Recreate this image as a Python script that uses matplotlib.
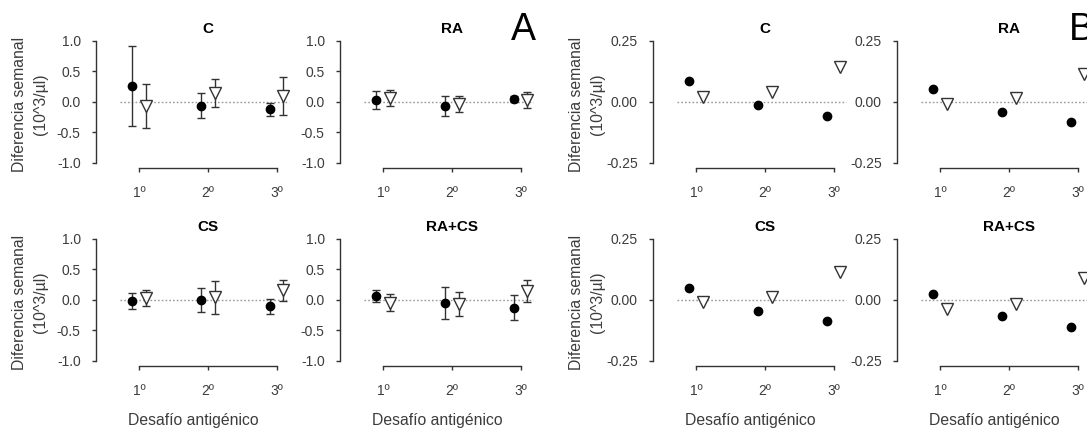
import matplotlib
matplotlib.use("Agg")
import matplotlib.pyplot as plt

plt.rcParams['font.family'] = ['Liberation Sans', 'DejaVu Sans']

desafios = ["1º", "2º", "3º"]
grupos = ["C", "RA", "CS", "RA+CS"]
x_pos = [1, 2, 3]

# A: media y error estándar (círculos llenos / triángulos vacíos)
a_media_circ = {"C": [0.26, -0.06, -0.12], "RA": [0.03, -0.07, 0.05],
                "CS": [-0.03, -0.01, -0.11], "RA+CS": [0.06, -0.06, -0.13]}
a_ee_circ = {"C": [0.65, 0.21, 0.11], "RA": [0.15, 0.16, 0.05],
             "CS": [0.13, 0.20, 0.12], "RA+CS": [0.10, 0.26, 0.20]}
a_media_tri = {"C": [-0.06, 0.15, 0.09], "RA": [0.07, -0.04, 0.03],
               "CS": [0.02, 0.04, 0.15], "RA+CS": [-0.05, -0.07, 0.14]}
a_ee_tri = {"C": [0.36, 0.23, 0.31], "RA": [0.13, 0.13, 0.13],
            "CS": [0.13, 0.27, 0.17], "RA+CS": [0.14, 0.20, 0.18]}

# B: valores sin barras de error
b_circ = {"C": [0.084, -0.014, -0.059], "RA": [0.054, -0.041, -0.082],
          "CS": [0.049, -0.045, -0.086], "RA+CS": [0.024, -0.069, -0.114]}
b_tri = {"C": [0.019, 0.040, 0.144], "RA": [-0.007, 0.014, 0.114],
         "CS": [-0.011, 0.012, 0.114], "RA+CS": [-0.038, -0.018, 0.090]}

W, H = 1087, 428
fig = plt.figure(figsize=(W / 100, H / 100), dpi=100)

gris = '#333333'
txt = '#3c3c3c'
col_left = {"A": [96, 340], "B": [653, 897]}
row_bottom = [168.3, 366]
ax_w, ax_h = 194, 127.5
dx = 0.1


def panel(left, bottom, grupo, bloque, fila, col):
    ax = fig.add_axes([left / W, (H - bottom) / H, ax_w / W, ax_h / H])
    ax.set_xlim(0.375, 0.375 + ax_w / 68.8)
    if bloque == "A":
        ax.set_ylim(-1.087, 1.0)
        ax.set_yticks([-1.0, -0.5, 0.0, 0.5, 1.0])
        ax.set_yticklabels(["-1.0", "-0.5", "0.0", "0.5", "1.0"])
        ax.spines['left'].set_bounds(-1.0, 1.0)
    else:
        ax.set_ylim(-0.272, 0.25)
        ax.set_yticks([-0.25, 0.0, 0.25])
        ax.set_yticklabels(["-0.25", "0.00", "0.25"])
        ax.spines['left'].set_bounds(-0.25, 0.25)
    ax.spines['bottom'].set_bounds(1, 3)
    for s in ['top', 'right']:
        ax.spines[s].set_visible(False)
    for s in ['left', 'bottom']:
        ax.spines[s].set_color(gris)
        ax.spines[s].set_linewidth(1.0)
    ax.set_xticks(x_pos)
    ax.set_xticklabels(desafios)
    ax.tick_params(axis='y', length=3, width=1, color=gris, labelcolor=txt,
                   labelsize=10, pad=8)
    ax.tick_params(axis='x', length=3, width=1, color=gris, labelcolor=txt,
                   labelsize=10, pad=10)
    ax.patch.set_alpha(0)

    ax.hlines(0, 0.72, 3.18, colors='#9a9a9a', linestyles=(0, (1.2, 1.5)),
              linewidth=1.0, zorder=1)

    xc = [x - dx for x in x_pos]
    xt = [x + dx for x in x_pos]
    if bloque == "A":
        ax.errorbar(xc, a_media_circ[grupo], yerr=a_ee_circ[grupo], fmt='o',
                    ms=6, color='black', ecolor=gris, elinewidth=1,
                    capsize=3, capthick=1, zorder=3)
        ax.errorbar(xt, a_media_tri[grupo], yerr=a_ee_tri[grupo], fmt='v',
                    ms=8.5, mfc='white', mec=gris, mew=1, ecolor=gris,
                    elinewidth=1, capsize=3, capthick=1, zorder=3)
    else:
        ax.plot(xc, b_circ[grupo], 'o', ms=6, color='black', zorder=3)
        ax.plot(xt, b_tri[grupo], 'v', ms=8.5, mfc='white', mec=gris,
                mew=1, zorder=3)

    ax.text(2, 1.09, grupo, transform=ax.get_xaxis_transform(),
            ha='center', va='center', fontsize=11, fontweight='bold',
            color='black')

    if col == 0:
        ax.set_ylabel("Diferencia semanal\n(10^3/µl)", fontsize=11.3,
                      color=txt, linespacing=1.5)
        ax.yaxis.set_label_coords(-48 / ax_w, 0.5)
    if fila == 1:
        ax.set_xlabel("Desafío antigénico", fontsize=11.3, color=txt,
                      labelpad=11)
    return ax


for bloque in ["A", "B"]:
    for fila in range(2):
        for col in range(2):
            grupo = grupos[fila * 2 + col]
            panel(col_left[bloque][col], row_bottom[fila], grupo, bloque,
                  fila, col)

fig.text(523 / W, 1 - 30 / H, "A", fontsize=27, ha='center', va='center',
         color='black')
fig.text(1081 / W, 1 - 30 / H, "B", fontsize=27, ha='center', va='center',
         color='black')

fig.savefig("out.png", dpi=100, facecolor='white')
